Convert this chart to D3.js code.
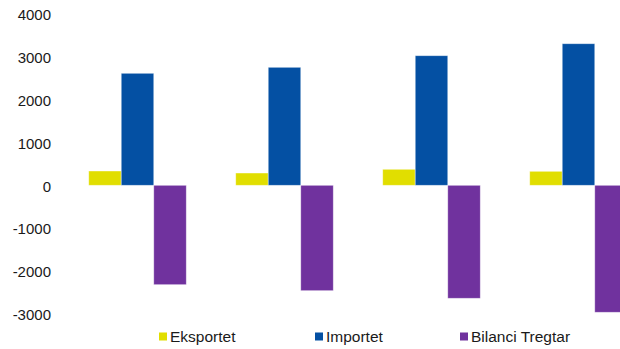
<!DOCTYPE html>
<html>
<head>
<meta charset="utf-8">
<script src="https://cdn.jsdelivr.net/npm/d3@7"></script>
<style>
  body { margin: 0; background: #fff; }
  text { font-family: "Liberation Sans", Arial, sans-serif; }
</style>
</head>
<body>
<div id="chart-area"></div>
<script>
// data
var periods = ["P1", "P2", "P3", "P4"];
var eksportet = [334, 287, 374, 327];
var importet = [2617, 2757, 3028, 3308];
var bilanci = [-2322, -2462, -2640, -2967];
var seriesNames = ["Eksportet", "Importet", "Bilanci Tregtar"];
var yTicks = [-3000, -2000, -1000, 0, 1000, 2000, 3000, 4000];

var colors = ["#e1de00", "#0450a3", "#70329e"];
var seriesValues = [eksportet, importet, bilanci];

var width = 620, height = 349;

var svg = d3.select("#chart-area")
  .append("svg")
    .attr("width", width)
    .attr("height", height);

// plot area runs past the right edge, like the source
var x = d3.scaleBand()
  .domain(periods)
  .range([64, 652])
  .paddingInner(0)
  .paddingOuter(0);

var inner = d3.scaleBand()
  .domain(seriesNames)
  .range([0, x.bandwidth()])
  .paddingOuter(0.76)
  .paddingInner(0);

var y = d3.scaleLinear()
  .domain([-3000, 4000])
  .range([313.7, 14.1]);

// Y axis, labels only
var yAxisCall = d3.axisLeft(y)
  .tickValues(yTicks)
  .tickSize(0)
  .tickPadding(0)
  .tickFormat(d => d);
var yAxis = svg.append("g")
  .attr("class", "y-axis")
  .attr("transform", "translate(51,1)")
  .call(yAxisCall);
yAxis.select(".domain").remove();
yAxis.selectAll("text")
  .attr("font-size", "15px")
  .attr("font-family", "Liberation Sans, Arial, sans-serif")
  .attr("fill", "#1a1a1a");

// bars
seriesNames.forEach(function(name, i) {
  svg.append("g")
    .attr("class", "series")
    .selectAll("rect")
    .data(seriesValues[i])
    .enter()
    .append("rect")
      .attr("x", (d, j) => x(periods[j]) + inner(name))
      .attr("width", inner.bandwidth())
      .attr("y", d => y(Math.max(0, d)))
      .attr("height", d => Math.abs(y(d) - y(0)))
      .attr("fill", colors[i])
      .attr("stroke", "#ffffff")
      .attr("stroke-opacity", 0.5)
      .attr("stroke-width", 0.8);
});

// legend
var legendX = [159, 315, 460];
var legend = svg.append("g").attr("class", "legend");
seriesNames.forEach(function(name, i) {
  legend.append("rect")
    .attr("x", legendX[i])
    .attr("y", 332.5)
    .attr("width", 8)
    .attr("height", 8)
    .attr("fill", colors[i]);
  legend.append("text")
    .attr("x", legendX[i] + 11)
    .attr("y", 342)
    .attr("font-size", "15.5px")
    .attr("fill", "#1a1a1a")
    .text(name);
});
</script>
</body>
</html>
